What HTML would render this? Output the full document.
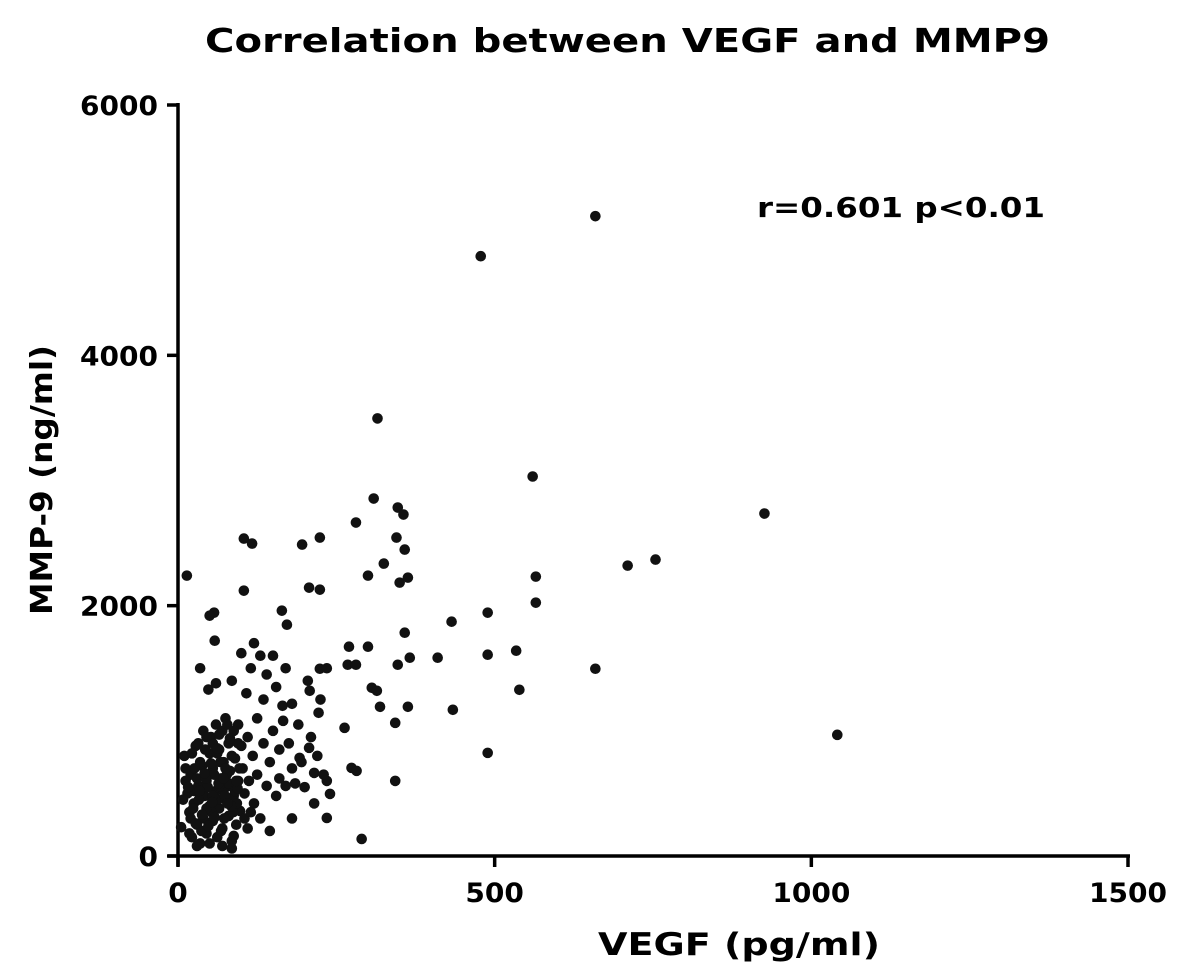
<!DOCTYPE html>
<html><head><meta charset="utf-8">
<style>
html,body{margin:0;padding:0;background:#fff;}
svg text{font-family:"DejaVu Sans","Liberation Sans",Arial,sans-serif;font-weight:bold;fill:#000;}
</style></head>
<body>
<svg id="chart" width="1181" height="974" viewBox="0 0 1181 974" xmlns="http://www.w3.org/2000/svg">
<text x="205" y="52" font-size="33" textLength="845" lengthAdjust="spacingAndGlyphs">Correlation between VEGF and MMP9</text>
<text x="757" y="217" font-size="28" textLength="288" lengthAdjust="spacingAndGlyphs">r=0.601 p&lt;0.01</text>
<text transform="translate(52,480) rotate(-90)" x="-135" font-size="30" textLength="270" lengthAdjust="spacingAndGlyphs">MMP-9  (ng/ml)</text>
<text x="598" y="955" font-size="31" textLength="282" lengthAdjust="spacingAndGlyphs">VEGF  (pg/ml)</text>
<g id="axes"></g>
<g id="points"></g>
</svg>
<script>
const xTicks=[0,500,1000,1500];
const yTicks=[0,2000,4000,6000];
const xVals=[14,659,478,315,560,926,309,347,356,281,104,117,196,224,345,358,325,300,565,754,710,350,363,207,224,104,565,57,489,164,432,358,172,270,300,534,366,410,489,268,281,224,659,347,539,306,314,319,434,343,363,263,1041,489,343,274,282,290,235,240,235,215,192,207,222,208,180,166,
5,10,15,18,20,22,25,28,30,32,35,35,38,40,42,45,45,48,50,50,52,55,55,58,60,60,62,65,65,68,70,70,72,75,75,78,80,80,82,85,85,88,90,92,95,95,98,100,100,102,105,108,110,110,112,115,118,120,120,125,125,130,130,135,135,140,140,145,145,150,150,155,155,160,160,165,170,170,175,180,180,185,190,195,200,205,210,215,220,225,230,235,
12,20,26,33,37,43,47,53,57,63,67,73,77,83,87,93,97,60,50,40,35,30,25,62,72,80,90,30,50,70,85,45,55,65,75,85,95,105,115,65,55,45,78,88,
8,16,24,34,44,54,64,74,84,94,18,28,38,48,58,68,78,88,12,22,32,42,52,62,72,82,92];
const yVals=[2240,5112,4792,3496,3032,2736,2856,2784,2728,2664,2536,2496,2488,2544,2544,2448,2336,2240,2232,2368,2320,2184,2224,2144,2128,2120,2024,1944,1944,1960,1872,1784,1848,1672,1672,1640,1584,1584,1608,1528,1528,1496,1496,1528,1328,1344,1320,1192,1168,1064,1192,1024,968,824,600,704,680,136,304,496,600,664,784,864,1144,1320,1216,1080,
230,800,500,350,650,150,420,880,250,560,1500,100,720,300,480,600,180,1330,820,400,950,280,700,1720,520,1050,150,850,380,620,1000,220,750,450,1100,560,320,900,680,1400,120,480,780,250,1050,600,360,880,1620,700,500,1300,950,220,600,1500,800,1700,420,1100,650,300,1600,900,1250,560,1450,750,200,1000,1600,480,1350,850,620,1200,560,1500,900,700,300,580,1050,750,550,1400,950,420,800,1250,650,1500,
600,300,700,450,200,850,550,350,650,450,750,300,650,560,350,420,700,1380,1920,1000,750,620,520,820,520,580,520,80,100,80,60,380,480,560,700,800,900,300,350,970,900,950,1050,1000,
450,550,380,520,620,430,580,480,400,540,180,260,330,240,310,200,420,160,700,820,900,660,740,860,620,940,600];
const X0=178,X1=1128,Y0=856,Y1=105;
function sx(v){return X0+(v-0)/1500*(X1-X0);}
function sy(v){return Y0-(v-0)/6000*(Y0-Y1);}
const NS="http://www.w3.org/2000/svg";
const axes=document.getElementById('axes');
function mk(tag,attrs,parent){const e=document.createElementNS(NS,tag);for(const k in attrs)e.setAttribute(k,attrs[k]);parent.appendChild(e);return e;}
let yl=mk('line',{x1:X0,y1:Y0+10,x2:X0,y2:Y1-2,stroke:'#000','stroke-width':3.5},axes);


let xl=mk('line',{x1:X0-10,y1:Y0,x2:X1+2,y2:Y0,stroke:'#000','stroke-width':3.5},axes);


xTicks.forEach(t=>{
  const tk=mk('line',{x1:sx(t),y1:Y0,x2:sx(t),y2:Y0+11,stroke:'#000','stroke-width':3.5},axes);
  
  
  const w=String(t).length*19.5;
  const lb=mk('text',{x:sx(t)-w/2,y:Y0+46,'font-size':27,textLength:w,lengthAdjust:'spacingAndGlyphs'},axes);
  lb.textContent=t;
  
  
});
yTicks.forEach(t=>{
  const tk=mk('line',{x1:X0-11,y1:sy(t),x2:X0,y2:sy(t),stroke:'#000','stroke-width':3.5},axes);
  
  
  const w=String(t).length*19.5;
  const lb=mk('text',{x:X0-20-w,y:sy(t)+10,'font-size':27,textLength:w,lengthAdjust:'spacingAndGlyphs'},axes);
  lb.textContent=t;
  
  
});
const pts=document.getElementById('points');
for(let i=0;i<xVals.length;i++){
  const c=mk('circle',{cx:sx(xVals[i]),cy:sy(yVals[i]),r:5.3,fill:'#111'},pts);
  
  
}
</script>
</body></html>
